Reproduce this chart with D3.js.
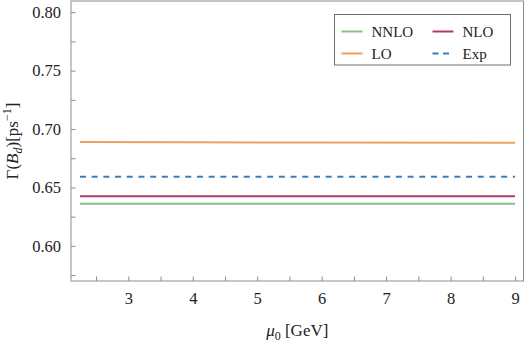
<!DOCTYPE html>
<html lang="en">
<head>
    <meta charset="UTF-8">
    <title>Gamma(Bd) vs mu0</title>
    <style>
        body { margin: 0; background: #fff; }
        .frame { fill: none; stroke: #8c8c8c; stroke-width: 1; }
        .tick line { stroke: #8c8c8c; }
    </style>
</head>
<body>
    <div id="chart"></div>
    <script src="https://cdn.jsdelivr.net/npm/d3@7"></script>
    <script>

        // data
        var mu = [2.25, 4, 6, 9];
        var nnlo = [0.6360, 0.6360, 0.6360, 0.6360];
        var nlo = [0.6424, 0.6424, 0.6424, 0.6424];
        var lo = [0.6888, 0.6886, 0.6884, 0.6883];
        var expVal = [0.6592, 0.6592, 0.6592, 0.6592];

        var xTicks = [3, 4, 5, 6, 7, 8, 9];
        var xMinor = [2.5, 3.5, 4.5, 5.5, 6.5, 7.5, 8.5];
        var yTicks = [0.60, 0.65, 0.70, 0.75, 0.80];
        var yMinor = [0.575, 0.625, 0.675, 0.725, 0.775];

        var series = [
            { name: "NNLO", values: nnlo, color: "#8cc086", dash: null },
            { name: "NLO", values: nlo, color: "#b8386a", dash: null },
            { name: "LO", values: lo, color: "#eba262", dash: null },
            { name: "Exp", values: expVal, color: "#3b7dbf", dash: "6,5.7" }
        ];

        var serif = "Liberation Serif";
        var width = 525, height = 343;
        var margin = { left: 71, right: 1.5, top: 1, bottom: 62 };

        var svg = d3.select("#chart").append("svg")
            .attr("width", width)
            .attr("height", height)
            .attr("font-family", serif);

        var x = d3.scaleLinear()
            .domain([2.111, 9.131])
            .range([margin.left, width - margin.right]);

        var y = d3.scaleLinear()
            .domain([0.5699, 0.8096])
            .range([height - margin.bottom, margin.top]);

        // frame
        svg.append("rect")
            .attr("class", "frame")
            .attr("x", margin.left)
            .attr("y", margin.top)
            .attr("width", width - margin.right - margin.left)
            .attr("height", height - margin.bottom - margin.top);

        // axes, ticks pointing inward
        svg.append("g")
            .attr("transform", "translate(0," + (height - margin.bottom) + ")")
            .call(d3.axisBottom(x).tickValues(xTicks).tickSize(-4.5).tickPadding(11)
                .tickFormat(d3.format("d")));
        svg.append("g")
            .attr("transform", "translate(0," + (height - margin.bottom) + ")")
            .call(d3.axisBottom(x).tickValues(xMinor).tickSize(-4.5).tickFormat(""));

        svg.append("g")
            .attr("transform", "translate(" + margin.left + ",0)")
            .call(d3.axisLeft(y).tickValues(yTicks).tickSize(-4.5).tickPadding(10)
                .tickFormat(d3.format(".2f")));
        svg.append("g")
            .attr("transform", "translate(" + margin.left + ",0)")
            .call(d3.axisLeft(y).tickValues(yMinor).tickSize(-4.5).tickFormat(""));

        svg.selectAll(".domain").remove();
        svg.selectAll("g").attr("font-family", serif).attr("font-size", 16.5);
        svg.selectAll(".tick text")
            .attr("font-family", serif)
            .attr("fill", "#222");

        // lines
        var line = d3.line()
            .x(function(d, i) { return x(mu[i]); })
            .y(function(d) { return y(d); });

        svg.append("g").selectAll("path")
            .data(series)
            .enter().append("path")
            .attr("d", function(d) { return line(d.values); })
            .attr("fill", "none")
            .attr("stroke", function(d) { return d.color; })
            .attr("stroke-width", 2)
            .attr("stroke-dasharray", function(d) { return d.dash; });

        // legend
        var legend = svg.append("g");
        legend.append("rect")
            .attr("x", 334.5).attr("y", 14.5)
            .attr("width", 176).attr("height", 50.5)
            .attr("fill", "#fff")
            .attr("stroke", "#6e6e6e");

        var legPos = [[341.5, 31.5], [432.5, 31.5], [341.5, 53.5], [432.5, 53.5]];
        var items = legend.selectAll("g.item")
            .data(series)
            .enter().append("g")
            .attr("transform", function(d, i) { return "translate(" + legPos[i][0] + "," + legPos[i][1] + ")"; });
        items.append("line")
            .attr("x1", 0).attr("x2", 21)
            .attr("stroke", function(d) { return d.color; })
            .attr("stroke-width", 2)
            .attr("stroke-dasharray", function(d) { return d.dash ? "6,4.5" : null; });
        items.append("text")
            .attr("x", 30).attr("y", 5)
            .attr("font-family", serif)
            .attr("font-size", 15)
            .attr("fill", "#222")
            .text(function(d) { return d.name; });

        // axis labels
        var xl = svg.append("text")
            .attr("x", (margin.left + width - margin.right) / 2)
            .attr("y", 336)
            .attr("text-anchor", "middle")
            .attr("font-family", serif)
            .attr("font-size", 17)
            .attr("fill", "#222");
        xl.append("tspan").attr("font-style", "italic").text("μ");
        xl.append("tspan").attr("dy", 4).attr("font-size", 12).text("0");
        xl.append("tspan").attr("dy", -4).text(" [GeV]");

        var yl = svg.append("text")
            .attr("transform", "translate(18," + ((margin.top + height - margin.bottom) / 2) + ") rotate(-90)")
            .attr("text-anchor", "middle")
            .attr("font-family", serif)
            .attr("font-size", 17)
            .attr("fill", "#222");
        yl.append("tspan").text("Γ(");
        yl.append("tspan").attr("font-style", "italic").text("B");
        yl.append("tspan").attr("font-style", "italic").attr("dy", 4).attr("font-size", 12).text("d");
        yl.append("tspan").attr("dy", -4).text(")[ps");
        yl.append("tspan").attr("dy", -7).attr("font-size", 12).text("−1");
        yl.append("tspan").attr("dy", 7).text("]");
    </script>
</body>
</html>
